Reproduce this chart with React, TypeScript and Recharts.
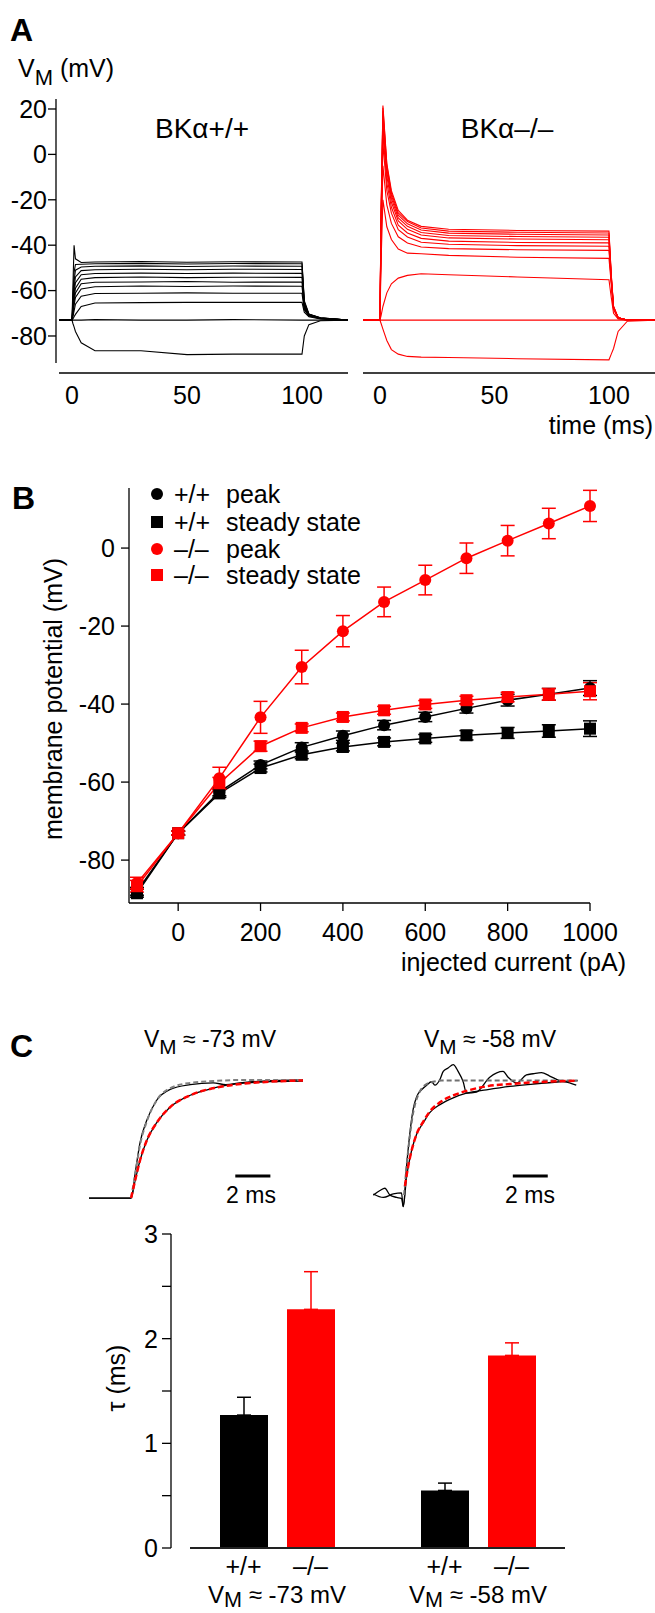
import React from 'react';
import { LineChart, Line, XAxis, YAxis, BarChart, Bar, Cell, ErrorBar, ReferenceLine } from 'recharts';

const FONT = '"Liberation Sans", Arial, Helvetica, sans-serif';
const RED = '#ff0000';
const INK = '#000000';

// ---------- A: responses to current steps (mV vs ms) ----------
const wtTime = [-5.6, 0, 0.4, 0.9, 1.5, 4, 10, 30, 50, 70, 100, 101, 103, 108, 120];
const wtTraces = [
  [-73, -73, -74.5, -76, -78, -83, -86.5, -86.5, -88.2, -88, -88, -80, -75, -73.3, -73],
  [-73, -73, -73, -73, -73, -73, -72.8, -73, -73, -72.8, -73, -73, -73, -73, -73],
  [-73, -73, -72.5, -71.5, -70.5, -67, -65.5, -65.3, -65.2, -65.2, -65.2, -69.5, -71.5, -72.5, -73],
  [-73, -73, -71.5, -69, -66, -62.5, -61.3, -61.2, -61, -61.2, -61.2, -68.5, -71.2, -72.4, -73],
  [-73, -73, -70.5, -66.5, -63, -59.3, -58.3, -58, -58.2, -58, -58.1, -68, -71, -72.3, -73],
  [-73, -73, -70, -65, -61, -57, -56.3, -56.2, -56, -56.3, -56.2, -67.5, -71, -72.3, -73],
  [-73, -73, -69, -63, -59, -55, -54.3, -54, -54.3, -54.1, -54.2, -67, -70.8, -72.2, -73],
  [-73, -73, -68, -61, -56.5, -53, -52.5, -52.3, -52.5, -52.3, -52.4, -66.5, -70.7, -72.2, -73],
  [-73, -73, -67, -59, -54, -51.2, -50.8, -50.6, -50.8, -50.6, -50.7, -66, -70.6, -72.1, -73],
  [-73, -73, -65, -56, -51, -49.6, -49.3, -49.1, -49.4, -49.2, -49.3, -65.5, -70.5, -72.1, -73],
  [-73, -73, -63, -52, -48.5, -48.4, -48.2, -48, -48.3, -48.1, -48.2, -65, -70.4, -72, -73],
  [-73, -73, -58, -40, -46, -47.6, -47.4, -47.2, -47.5, -47.3, -47.4, -64.5, -70.3, -72, -73],
];

const koTime = [-7.4, 0, 0.5, 1.3, 3, 5, 8, 12, 18, 30, 60, 100, 101, 102, 104, 108, 120];
const koTraces = [
  [-73, -73, -74.5, -77, -82, -86, -88, -89, -89.3, -89.5, -90, -90.5, -88, -85.5, -78, -73.5, -73],
  [-73, -73, -73, -73, -73, -73, -73, -73, -73, -73, -73, -73, -73, -73, -73, -73, -73],
  [-73, -73, -71, -67, -61, -57, -54.5, -53.3, -52.6, -53, -54, -55.2, -63, -70, -72.5, -73, -73],
  [-73, -73, -47, -20, -31.9, -37.5, -41.7, -43.5, -43.8, -44.5, -45.3, -45.8, -57, -68, -72, -73, -73],
  [-73, -73, -40, -5, -22.2, -30.4, -36.3, -39, -40.8, -41.5, -42, -42.3, -56, -68, -72, -73, -73],
  [-73, -73, -35, 5, -15.9, -25.9, -33.2, -36.4, -38.7, -39.6, -40.2, -40.5, -56, -68, -72, -73, -73],
  [-73, -73, -32, 10, -12.5, -23.3, -31.2, -34.6, -37, -38.2, -38.8, -39, -55, -68, -72, -73, -73],
  [-73, -73, -30, 14, -9.7, -21.1, -29.3, -33, -35.5, -36.8, -37.3, -37.6, -55, -67.5, -72, -73, -73],
  [-73, -73, -28, 17, -7.6, -19.4, -28, -31.7, -34.4, -35.7, -36.2, -36.5, -54, -67.5, -72, -73, -73],
  [-73, -73, -27, 19, -6.1, -18.1, -26.8, -30.6, -33.3, -34.7, -35.2, -35.5, -54, -67, -72, -73, -73],
  [-73, -73, -26, 20.5, -4.8, -17, -25.8, -29.6, -32.4, -33.8, -34.3, -34.6, -53, -67, -72, -73, -73],
  [-73, -73, -25, 21.5, -4, -16, -24.7, -29, -31.7, -33, -33.5, -33.8, -53, -67, -72, -73, -73],
];
const traceTicksV = [-80, -60, -40, -20, 0, 20];
const traceTicksT = [0, 50, 100];

// ---------- B: I-V relation ----------
const currents = [-100, 0, 100, 200, 300, 400, 500, 600, 700, 800, 900, 1000];
const wtPeak = [-88, -73.1, -62.5, -55.6, -51.1, -48.1, -45.4, -43.3, -41.1, -39, -37.5, -35.9];
const wtPeakSem = [1, 0.5, 1, 1, 1.2, 1.2, 1.2, 1.2, 1.2, 1.5, 1.5, 1.9];
const wtSteady = [-88.5, -73.1, -62.9, -56.4, -53, -51, -49.7, -48.8, -48, -47.4, -46.9, -46.3];
const wtSteadySem = [1, 0.5, 1, 1, 1, 1, 1, 1, 1.2, 1.4, 1.6, 2];
const koPeak = [-85.9, -73.1, -59, -43.4, -30.5, -21.3, -13.8, -8.2, -2.6, 1.9, 6.3, 10.8];
const koPeakSem = [1.5, 0.5, 2.8, 4.1, 4.3, 4, 3.8, 3.8, 3.9, 3.9, 3.9, 4];
const koSteady = [-86.7, -73.1, -60.3, -50.8, -46.1, -43.3, -41.6, -40.1, -39, -38.2, -37.5, -36.7];
const koSteadySem = [1.5, 0.5, 1.5, 1.3, 1, 1, 1, 1, 1, 1.2, 1.5, 2.2];

const legendGenotype = ['+/+', '+/+', '–/–', '–/–'];
const legendMeasure = ['peak', 'steady state', 'peak', 'steady state'];

// ---------- C: normalised rising phases (ms, fraction) ----------
const cLeftWtT = [-2.4, 0, 0.23, 0.51, 0.9, 1.47, 2.23, 3.37, 4.68, 5.4, 6.2, 7.5, 9.8];
const cLeftWtV = [0, 0, 0.21, 0.47, 0.66, 0.83, 0.92, 0.96, 0.975, 0.96, 0.975, 0.99, 1.0];
const cLeftWtFitT = [0, 0.23, 0.51, 0.9, 1.47, 2.23, 3.37, 4.68, 6.5, 9.8];
const cLeftWtFitV = [0, 0.2, 0.45, 0.65, 0.83, 0.93, 0.975, 0.99, 1.0, 1.0];
const cLeftKoT = [-2.4, 0, 0.23, 0.51, 0.9, 1.47, 2.23, 3.37, 4.68, 6.23, 7.94, 9.8];
const cLeftKoV = [0, 0, 0.15, 0.32, 0.49, 0.64, 0.77, 0.87, 0.93, 0.97, 0.985, 0.99];
const cLeftKoFitT = [0, 0.23, 0.51, 0.9, 1.47, 2.23, 3.37, 4.68, 6.23, 7.94, 9.8];
const cLeftKoFitV = [0, 0.15, 0.32, 0.49, 0.64, 0.77, 0.87, 0.93, 0.965, 0.985, 0.995];

const cRightWtT = [-1.71, -1.33, -1.05, -0.76, -0.38, -0.09, 0, 0.19, 0.38, 0.57, 0.77, 1.05, 1.34, 1.62, 1.81, 2.1, 2.29, 2.57, 2.86, 3.14, 3.43, 3.62, 4.19, 4.95, 5.71, 6.0, 6.48, 7.05, 7.43, 7.91, 8.38, 8.95, 9.52, 9.9];
const cRightWtV = [0, 0.04, 0.06, 0, -0.02, -0.03, -0.1, 0.25, 0.54, 0.75, 0.86, 0.92, 0.96, 0.99, 0.96, 1.01, 1.08, 1.11, 1.14, 1.08, 0.99, 0.89, 0.9, 1.03, 1.08, 1.03, 0.98, 1.05, 1.06, 1.07, 1.04, 1.0, 0.98, 0.96];
const cRightWtFitT = [0.05, 0.19, 0.38, 0.57, 0.77, 1.05, 1.34, 1.7, 2.2, 9.98];
const cRightWtFitV = [0, 0.25, 0.52, 0.72, 0.84, 0.93, 0.97, 0.99, 1.0, 1.0];
const cRightKoT = [-1.71, -1.14, -0.57, -0.1, 0, 0.19, 0.48, 0.76, 1.14, 1.52, 2.1, 2.86, 3.62, 4.76, 6.1, 7.43, 8.95, 9.98];
const cRightKoV = [0.01, -0.02, 0.01, 0.02, -0.1, 0.16, 0.39, 0.53, 0.63, 0.72, 0.79, 0.85, 0.89, 0.92, 0.95, 0.97, 0.99, 1.0];
const cRightKoFitT = [0.1, 0.19, 0.48, 0.76, 1.14, 1.52, 2.1, 2.86, 3.62, 4.76, 6.1, 7.43, 8.95, 9.98];
const cRightKoFitV = [0.08, 0.17, 0.39, 0.53, 0.64, 0.73, 0.81, 0.87, 0.91, 0.95, 0.97, 0.985, 0.995, 1.0];

// ---------- C: activation time constants ----------
const tauGenotypes = ['+/+', '–/–'];
const tauConditions = ['-73', '-58'];
const tauMeanWT = [1.27, 0.55];
const tauSemWT = [0.17, 0.07];
const tauMeanKO = [2.28, 1.84];
const tauSemKO = [0.36, 0.12];
const tauTicks = [0, 0.5, 1, 1.5, 2, 2.5, 3];

const tickStyle = { fontSize: 25, fill: INK, fontFamily: FONT };
const axisStroke = { stroke: INK, strokeWidth: 1.3 };

const pairs = (t: number[], v: number[]) => t.map((x, i) => ({ t: x, v: v[i] }));

// y axis drawn on its own so it can sit apart from the x axis
function YRule({ x, top, height, domain, ticks, tickSize, tickMargin, format }: any) {
  const w = 80;
  return (
    <div style={{ position: 'absolute', left: x - w, top: top - 20 }}>
      <LineChart width={w + 2} height={height + 40} data={ticks.map((v: number) => ({ v, u: 0 }))}
        margin={{ top: 20, right: 0, bottom: 20, left: 0 }}>
        <XAxis type="number" dataKey="u" hide domain={[0, 1]} />
        <YAxis type="number" dataKey="v" width={w} domain={domain} ticks={ticks} interval={0}
          tickSize={tickSize} tickMargin={tickMargin} tickFormatter={format}
          tick={tickStyle} axisLine={axisStroke} tickLine={axisStroke} />
      </LineChart>
    </div>
  );
}

function XRule({ y, left, width, domain, ticks, padR = 30 }: any) {
  return (
    <div style={{ position: 'absolute', left: left - 30, top: y - 2 }}>
      <LineChart width={width + 30 + padR} height={61} data={ticks.map((t: number) => ({ t, u: 0 }))}
        margin={{ top: 0, right: padR, bottom: 0, left: 30 }}>
        <YAxis type="number" dataKey="u" hide domain={[0, 1]} />
        <XAxis type="number" dataKey="t" height={59} domain={domain} ticks={ticks} interval={0}
          tickSize={4} tickMargin={9} tick={tickStyle}
          axisLine={axisStroke} tickLine={false} />
      </LineChart>
    </div>
  );
}

function Traces({ left, top, width, height, xDomain, yDomain, times, traces, color }: any) {
  const rows = times.map((t: number, i: number) => {
    const row: Record<string, number> = { t };
    traces.forEach((tr: number[], k: number) => { row['s' + k] = tr[i]; });
    return row;
  });
  return (
    <div style={{ position: 'absolute', left, top }}>
      <LineChart width={width} height={height} data={rows} margin={{ top: 0, right: 0, bottom: 0, left: 0 }}>
        <XAxis type="number" dataKey="t" hide domain={xDomain} />
        <YAxis type="number" hide domain={yDomain} />
        {traces.map((_: number[], k: number) => (
          <Line key={k} dataKey={'s' + k} stroke={color} strokeWidth={1.1} dot={false}
            type="linear" isAnimationActive={false} />
        ))}
      </LineChart>
    </div>
  );
}

function Inset({ left, top, width, height, xDomain, yDomain, lines, bar }: any) {
  return (
    <div style={{ position: 'absolute', left, top }}>
      <LineChart width={width} height={height} margin={{ top: 0, right: 0, bottom: 0, left: 0 }}>
        <XAxis type="number" dataKey="t" hide domain={xDomain} />
        <YAxis type="number" hide domain={yDomain} />
        {lines.map((l: any, k: number) => (
          <Line key={k} data={pairs(l.t, l.v)} dataKey="v" stroke={l.stroke} strokeWidth={l.w}
            strokeDasharray={l.dash} dot={false} type="monotone" isAnimationActive={false} />
        ))}
        <ReferenceLine segment={[{ x: bar[0], y: bar[2] }, { x: bar[1], y: bar[2] }]}
          stroke={INK} strokeWidth={3} ifOverflow="visible" />
      </LineChart>
    </div>
  );
}

const roundDot = (color: string) => ({ r: 6, fill: color, stroke: color, strokeWidth: 0 });
const squareDot = (color: string) => (p: any) => (
  <rect key={p.index} x={p.cx - 6} y={p.cy - 6} width={12} height={12} fill={color} />
);

function VM({ x, y, anchor = 'middle', rest, size = 25, sub = 7 }: any) {
  return (
    <text x={x} y={y} fontSize={size} textAnchor={anchor} fontFamily={FONT} fill={INK}>
      <tspan>V</tspan>
      <tspan dy={sub} fontSize={size * 0.9}>M</tspan>
      <tspan dy={-sub}>{rest}</tspan>
    </text>
  );
}

export default function App() {
  const ivRows = currents.map((c, i) => ({
    c,
    wtPeak: wtPeak[i], wtPeakErr: wtPeakSem[i],
    wtSteady: wtSteady[i], wtSteadyErr: wtSteadySem[i],
    koPeak: koPeak[i], koPeakErr: koPeakSem[i],
    koSteady: koSteady[i], koSteadyErr: koSteadySem[i],
  }));

  const tauRows: any[] = [];
  tauConditions.forEach((cond, g) => {
    if (g > 0) tauRows.push({ key: 'gap', label: '', tau: null, color: INK });
    tauRows.push({ key: 'wt' + cond, label: tauGenotypes[0], tau: tauMeanWT[g], wtErr: [0, tauSemWT[g]], color: INK });
    tauRows.push({ key: 'ko' + cond, label: tauGenotypes[1], tau: tauMeanKO[g], koErr: [0, tauSemKO[g]], color: RED });
  });

  const letter = { fontSize: 32, fontWeight: 700, fontFamily: FONT, fill: INK } as const;
  const label = { fontSize: 25, fontFamily: FONT, fill: INK } as const;

  return (
    <div style={{ position: 'absolute', left: 0, top: 0, width: 655, height: 1613, background: '#fff', overflow: 'hidden' }}>
      {/* A */}
      <Traces left={59} top={99} width={289} height={264} xDomain={[-5.65, 120]} yDomain={[-91.9, 24.4]}
        times={wtTime} traces={wtTraces} color={INK} />
      <Traces left={363} top={99} width={292} height={264} xDomain={[-7.4, 120.1]} yDomain={[-91.9, 24.4]}
        times={koTime} traces={koTraces} color={RED} />
      <YRule x={56} top={99} height={264} domain={[-91.9, 24.4]} ticks={traceTicksV}
        tickSize={8} tickMargin={1} />
      <XRule y={373} left={59} width={289} domain={[-5.65, 120]} ticks={traceTicksT} />
      <XRule y={373} left={363} width={292} domain={[-7.4, 120.1]} ticks={traceTicksT} padR={0} />

      {/* B */}
      <div style={{ position: 'absolute', left: 0, top: 478 }}>
        <LineChart width={655} height={495} data={ivRows} margin={{ top: 10, right: 65, bottom: 0, left: 0 }}>
          <XAxis type="number" dataKey="c" height={70} domain={[-119.4, 1000]} ticks={[0, 200, 400, 600, 800, 1000]}
            interval={0} tickSize={8} tickMargin={12} tick={tickStyle} axisLine={axisStroke} tickLine={axisStroke} />
          <YAxis type="number" width={129} domain={[-91, 15.4]} ticks={[-80, -60, -40, -20, 0]} interval={0}
            tickSize={8} tickMargin={6} tick={tickStyle} axisLine={axisStroke} tickLine={axisStroke} />
          <Line dataKey="wtSteady" stroke={INK} strokeWidth={1.5} dot={squareDot(INK)} isAnimationActive={false}>
            <ErrorBar dataKey="wtSteadyErr" width={7} stroke={INK} strokeWidth={1.5} direction="y" />
          </Line>
          <Line dataKey="wtPeak" stroke={INK} strokeWidth={1.5} dot={roundDot(INK)} isAnimationActive={false}>
            <ErrorBar dataKey="wtPeakErr" width={7} stroke={INK} strokeWidth={1.5} direction="y" />
          </Line>
          <Line dataKey="koPeak" stroke={RED} strokeWidth={1.5} dot={roundDot(RED)} isAnimationActive={false}>
            <ErrorBar dataKey="koPeakErr" width={7} stroke={RED} strokeWidth={1.5} direction="y" />
          </Line>
          <Line dataKey="koSteady" stroke={RED} strokeWidth={1.5} dot={squareDot(RED)} isAnimationActive={false}>
            <ErrorBar dataKey="koSteadyErr" width={7} stroke={RED} strokeWidth={1.5} direction="y" />
          </Line>
        </LineChart>
      </div>

      {/* C traces */}
      <Inset left={89} top={1074} width={214} height={130} xDomain={[-2.4, 9.8]} yDomain={[-0.05, 1.05]}
        bar={[5.94, 7.94, 0.186]}
        lines={[
          { t: cLeftKoT, v: cLeftKoV, stroke: INK, w: 1.3 },
          { t: cLeftWtT, v: cLeftWtV, stroke: INK, w: 1.3 },
          { t: cLeftWtFitT, v: cLeftWtFitV, stroke: '#808080', w: 2, dash: '5 3' },
          { t: cLeftKoFitT, v: cLeftKoFitV, stroke: RED, w: 2.5, dash: '6 3' },
        ]} />
      <Inset left={373} top={1060} width={205} height={150} xDomain={[-1.73, 10]} yDomain={[-0.13, 1.18]}
        bar={[6.27, 8.27, 0.167]}
        lines={[
          { t: cRightKoT, v: cRightKoV, stroke: INK, w: 1.3 },
          { t: cRightWtT, v: cRightWtV, stroke: INK, w: 1.3 },
          { t: cRightWtFitT, v: cRightWtFitV, stroke: '#707070', w: 2, dash: '5 3' },
          { t: cRightKoFitT, v: cRightKoFitV, stroke: RED, w: 2.5, dash: '6 3' },
        ]} />

      {/* C bars */}
      <div style={{ position: 'absolute', left: 190, top: 1224 }}>
        <BarChart width={375} height={384} data={tauRows} margin={{ top: 10, right: 0, bottom: 0, left: 0 }} barSize={48}>
          <XAxis dataKey="key" height={60} padding={{ left: 20, right: 20 }} interval={0}
            tickFormatter={(_: any, i: number) => tauRows[i] ? tauRows[i].label : ''}
            tickSize={0} tickMargin={9} tick={tickStyle} tickLine={false}
            axisLine={{ stroke: '#222', strokeWidth: 2.2 }} />
          <YAxis type="number" hide domain={[0, 3]} />
          <Bar dataKey="tau" isAnimationActive={false}>
            {tauRows.map((r, i) => <Cell key={i} fill={r.color} />)}
            <ErrorBar dataKey="wtErr" width={7} stroke={INK} strokeWidth={1.5} direction="y" />
            <ErrorBar dataKey="koErr" width={7} stroke={RED} strokeWidth={1.5} direction="y" />
          </Bar>
        </BarChart>
      </div>
      <YRule x={171} top={1234} height={314} domain={[0, 3]} ticks={tauTicks}
        tickSize={9} tickMargin={4} format={(v: number) => (Number.isInteger(v) ? String(v) : '')} />

      {/* text */}
      <svg width={655} height={1613} style={{ position: 'absolute', left: 0, top: 0, pointerEvents: 'none' }}>
        <text x={10} y={41} {...letter}>A</text>
        <text x={12} y={509} {...letter}>B</text>
        <text x={10} y={1057} {...letter}>C</text>

        <text x={18} y={77} {...label}>
          <tspan>V</tspan>
          <tspan dy={8} fontSize={22}>M</tspan>
          <tspan dy={-8}> (mV)</tspan>
        </text>
        <text x={202} y={138} {...label} fontSize={28} textAnchor="middle">BKα+/+</text>
        <text x={507} y={138} {...label} fontSize={28} textAnchor="middle">BKα–/–</text>
        <text x={653} y={434} {...label} textAnchor="end">time (ms)</text>

        {legendGenotype.map((g, i) => {
          const y = [494, 522, 549, 575][i];
          const c = i < 2 ? INK : RED;
          return (
            <g key={i}>
              {i % 2 === 0
                ? <circle cx={157} cy={y} r={6} fill={c} />
                : <rect x={151} y={y - 6} width={12} height={12} fill={c} />}
              <text x={174} y={y + 9} {...label}>{g}</text>
              <text x={226} y={y + 9} {...label}>{legendMeasure[i]}</text>
            </g>
          );
        })}
        <text x={53} y={699} {...label} textAnchor="middle" dy="0.36em" transform="rotate(-90 53 699)">
          membrane potential (mV)
        </text>
        <text x={626} y={971} {...label} textAnchor="end">injected current (pA)</text>

        <VM x={210} y={1047} size={23} rest=" ≈ -73 mV" />
        <VM x={490} y={1047} size={23} rest=" ≈ -58 mV" />
        <text x={251} y={1203} {...label} fontSize={23} textAnchor="middle">2 ms</text>
        <text x={530} y={1203} {...label} fontSize={23} textAnchor="middle">2 ms</text>

        <text x={116} y={1378} {...label} textAnchor="middle" dy="0.36em" transform="rotate(-90 116 1378)">τ (ms)</text>
        <VM x={277} y={1603} size={24} sub={4} rest=" ≈ -73 mV" />
        <VM x={478} y={1603} size={24} sub={4} rest=" ≈ -58 mV" />
      </svg>
    </div>
  );
}
